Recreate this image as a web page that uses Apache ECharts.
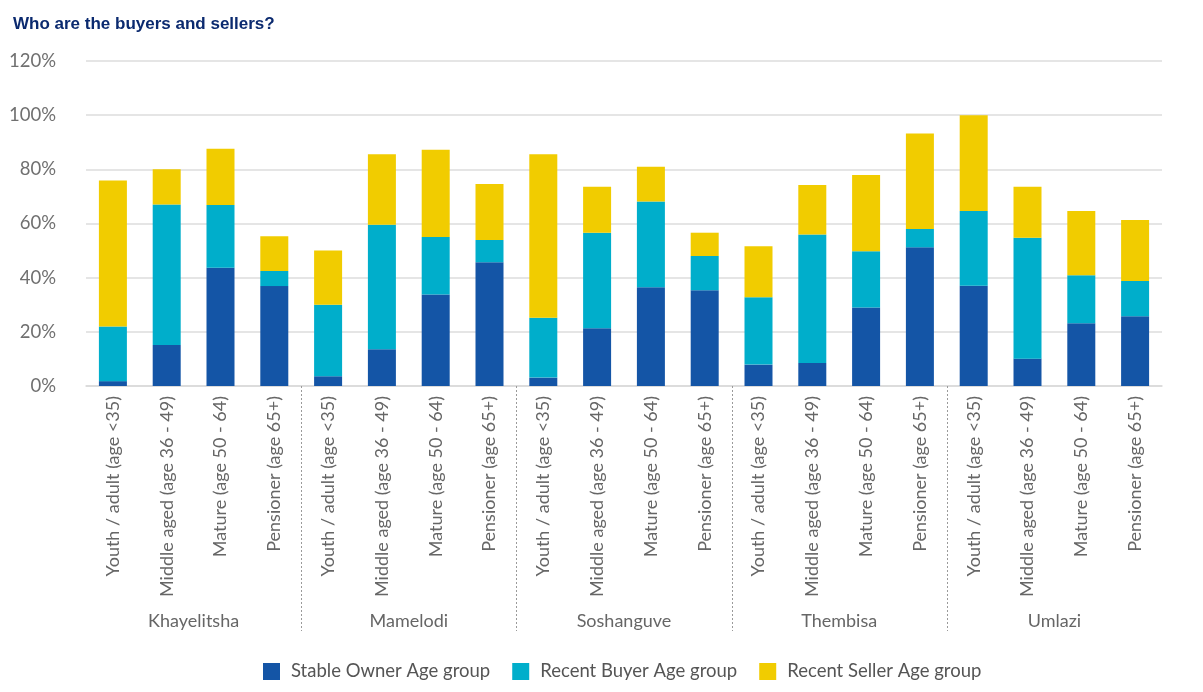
<!DOCTYPE html>
<html>
<head>
<meta charset="utf-8">
<script src="https://cdn.jsdelivr.net/npm/echarts@6/dist/echarts.min.js"></script>
<style>
html,body{margin:0;padding:0;background:#fff;}
#chart{width:1203px;height:692px;}
</style>
</head>
<body>
<div id="chart"></div>
<script>
const ageGroups = ['Youth / adult (age <35)', 'Middle aged (age 36 - 49)', 'Mature (age 50 - 64)', 'Pensioner (age 65+)'];
const townships = ['Khayelitsha', 'Mamelodi', 'Soshanguve', 'Thembisa', 'Umlazi'];
const categories = [];
townships.forEach(function () { ageGroups.forEach(function (a) { categories.push(a); }); });
const seriesNames = ['Stable Owner Age group', 'Recent Buyer Age group', 'Recent Seller Age group'];
const stableOwner = [1.8, 15.1, 43.7, 36.9, 3.6, 13.6, 33.8, 45.7, 3.1, 21.3, 36.5, 35.4, 7.9, 8.5, 29.0, 51.2, 37.0, 10.1, 23.2, 25.8];
const recentBuyer = [20.2, 51.9, 23.1, 5.6, 26.4, 45.9, 21.2, 8.2, 22.1, 35.3, 31.6, 12.6, 24.9, 47.4, 20.8, 6.8, 27.6, 44.6, 17.7, 13.0];
const recentSeller = [53.9, 13.0, 20.8, 12.8, 20.0, 26.1, 32.2, 20.7, 60.4, 17.0, 12.9, 8.6, 18.8, 18.3, 28.1, 35.2, 35.4, 18.9, 23.7, 22.5];
const groupBoundaries = [4, 8, 12, 16];
const yTicks = { min: 0, max: 120, interval: 20 };

const colors = ['#1455a6', '#00aecb', '#f1cc00'];
const textGray = '#666666';
const font = 'Lato';

const chart = echarts.init(document.getElementById('chart'));
const option = {
  animation: false,
  title: {
    text: 'Who are the buyers and sellers?',
    left: 8, top: 11,
    textStyle: { fontFamily: 'Liberation Sans', fontWeight: 'bold', fontSize: 17, color: '#0b2a6f' }
  },
  legend: {
    data: seriesNames,
    top: 657, left: 258,
    icon: 'rect', itemWidth: 17, itemHeight: 17, itemGap: 22,
    textStyle: { fontFamily: font, fontSize: 18.5, color: '#555555', padding: [0, 0, 0, 6] }
  },
  grid: { left: 86, right: 41, top: 61, bottom: 306 },
  xAxis: [
    {
      type: 'category', data: categories,
      axisLine: { lineStyle: { color: '#d9d9d9', width: 1.5 } },
      axisTick: { show: false },
      axisLabel: { rotate: 90, margin: 10, fontFamily: font, fontSize: 18, color: textGray, interval: 0 }
    },
    {
      type: 'category', data: townships, position: 'bottom',
      axisLine: { show: false }, axisTick: { show: false },
      axisLabel: { margin: 226, fontFamily: font, fontSize: 18, color: textGray, interval: 0 }
    }
  ],
  yAxis: {
    type: 'value', min: yTicks.min, max: yTicks.max, interval: yTicks.interval,
    axisLine: { show: false }, axisTick: { show: false },
    axisLabel: { formatter: '{value}%', margin: 30, fontFamily: font, fontSize: 18.5, color: '#707070' },
    splitLine: { lineStyle: { color: '#dcdcdc', width: 1.5 } }
  },
  series: [
    { name: seriesNames[0], type: 'bar', stack: 'total', data: stableOwner, barWidth: 28, itemStyle: { color: colors[0] } },
    { name: seriesNames[1], type: 'bar', stack: 'total', data: recentBuyer, barWidth: 28, itemStyle: { color: colors[1] } },
    { name: seriesNames[2], type: 'bar', stack: 'total', data: recentSeller, barWidth: 28, itemStyle: { color: colors[2] } },
    {
      type: 'custom', xAxisIndex: 0, silent: true, clip: false,
      data: groupBoundaries.map(function (b) { return [b, 0]; }),
      renderItem: function (params, api) {
        const p = api.coord([api.value(0), 0]);
        const w = api.size([1, 0])[0];
        const x = Math.round(p[0] - w / 2) + 0.5;
        return {
          type: 'line',
          shape: { x1: x, y1: p[1], x2: x, y2: p[1] + 245 },
          style: { stroke: '#9a9a9a', lineWidth: 1, lineDash: [2, 2] }
        };
      }
    }
  ]
};
chart.setOption(option);
</script>
</body>
</html>
